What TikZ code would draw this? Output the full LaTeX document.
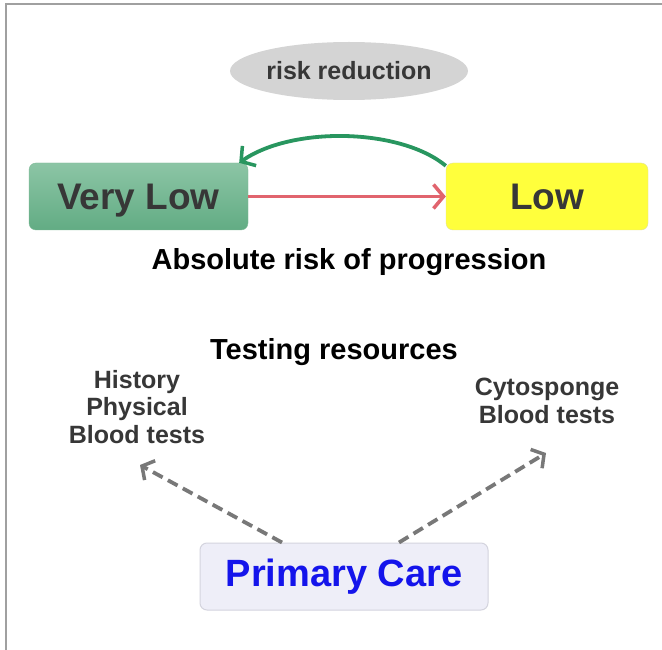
\documentclass[tikz,border=0pt]{standalone}
\usepackage{fontspec}
\setmainfont{Liberation Sans}
\usetikzlibrary{shapes.geometric,arrows.meta}
\definecolor{frameg}{RGB}{160,160,160}
\definecolor{ellg}{RGB}{212,212,212}
\definecolor{txtg}{RGB}{55,55,55}
\definecolor{grtop}{RGB}{140,197,165}
\definecolor{grbot}{RGB}{98,172,132}
\definecolor{grline}{RGB}{125,185,150}
\definecolor{yel}{RGB}{255,255,60}
\definecolor{yelline}{RGB}{225,225,150}
\definecolor{redar}{RGB}{225,100,110}
\definecolor{greenar}{RGB}{40,150,95}
\definecolor{pcfill}{RGB}{238,238,248}
\definecolor{pcline}{RGB}{212,212,222}
\definecolor{pcblue}{RGB}{20,20,235}
\definecolor{dashg}{RGB}{120,120,120}
\tikzset{
  riskbox/.style={rectangle, rounded corners=7pt, minimum height=67pt, inner sep=0pt, text height=27pt, text depth=1pt, font=\fontsize{37}{40}\selectfont\bfseries, text=txtg},
  headtxt/.style={font=\fontsize{29}{32}\selectfont\bfseries, text=black},
  restxt/.style={font=\fontsize{25}{27.5}\selectfont\bfseries, text=txtg, align=center},
  solidar/.style={line width=3.8pt, -{Straight Barb[length=10pt,width=24pt,line width=3.5pt]}},
  dashar/.style={line width=3.8pt, dashg, dash pattern=on 11pt off 6pt, -{Straight Barb[length=9pt,width=22pt,line width=3.5pt]}}
}
\begin{document}
\begin{tikzpicture}[x=1pt,y=-1pt]
\useasboundingbox (0,0) rectangle (662,650);
\fill[white] (0,0) rectangle (662,650);
\draw[frameg, line width=1.5pt] (6,650) -- (6,4) -- (662,4);

\node[ellipse, fill=ellg, minimum width=238pt, minimum height=58pt, inner sep=0pt,
      font=\fontsize{25}{27}\selectfont\bfseries, text=txtg] (ell) at (349,71) {risk reduction};

\node[riskbox, minimum width=219pt, top color=grtop, bottom color=grbot, draw=grline] (vl) at (138.5,196.5) {Very Low};
\node[riskbox, minimum width=202pt, fill=yel, draw=yelline] (low) at (547,196.5) {Low};

\draw[solidar, redar] (vl.east) -- (low.west);
\draw[solidar, greenar] ([yshift=-3pt]low.north west) .. controls (400,128) and (292,126) .. ([xshift=-9pt]vl.north east);

\node[headtxt] (abs) at (349,262) {Absolute risk of progression};
\node[headtxt] (test) at (334,352) {Testing resources};

\node[restxt] (hist) at (137,407) {History\\Physical\\Blood tests};
\node[restxt] (cyto) at (547,401) {Cytosponge\\Blood tests};

\node[rectangle, rounded corners=7pt, minimum width=288pt, minimum height=67pt, inner sep=0pt,
      fill=pcfill, draw=pcline, line width=1pt,
      font=\fontsize{38}{40}\selectfont\bfseries, text=pcblue] (pc) at (344,576.5) {Primary Care};

\coordinate (ltip) at (140,465);
\coordinate (rtip) at (546,453);
\draw[dashar] ([xshift=-62pt]pc.north) -- (ltip);
\draw[dashar] ([xshift=55pt]pc.north) -- (rtip);
\end{tikzpicture}
\end{document}
